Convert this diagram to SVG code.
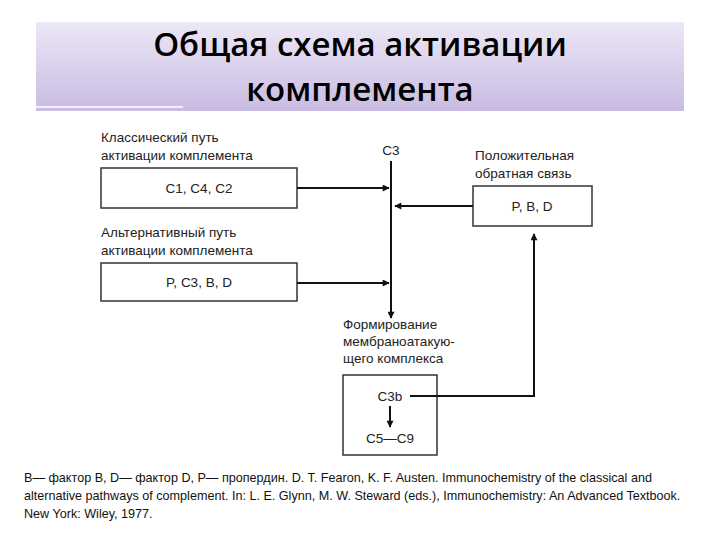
<svg xmlns="http://www.w3.org/2000/svg" width="720" height="540" viewBox="0 0 720 540">
<defs>
<linearGradient id="g" x1="0" y1="0" x2="0" y2="1"><stop offset="0" stop-color="#ece8f6"/><stop offset="1" stop-color="#c9bbe2"/></linearGradient>
<marker id="a" viewBox="0 0 10 10" refX="9" refY="5" markerWidth="9" markerHeight="7" orient="auto" markerUnits="userSpaceOnUse"><path d="M0,0L10,5L0,10z" fill="#111"/></marker>
<style>
.t{font-family:"Liberation Sans",Arial,sans-serif;font-size:13.5px;fill:#222}
.b{fill:#fff;stroke:#333;stroke-width:1.5}
.c{stroke:#111;stroke-width:2;fill:none}
.f{font-family:"Liberation Sans",Arial,sans-serif;font-size:12.6px;fill:#111}
</style>
</defs>
<rect width="720" height="540" fill="#fff"/>
<g id="title">
<rect x="36" y="22" width="648" height="89" fill="url(#g)"/>
<line x1="36" y1="107" x2="183" y2="107" stroke="#fff" stroke-width="1.5"/>
<text x="360" y="56" text-anchor="middle" font-family="'Open Sans','Noto Sans',sans-serif" font-size="33" font-weight="600">Общая схема активации</text>
<text x="360" y="101" text-anchor="middle" font-family="'Open Sans','Noto Sans',sans-serif" font-size="33" font-weight="600">комплемента</text>
</g>
<g id="classic">
<text class="t" x="101" y="142">Классический путь</text>
<text class="t" x="101" y="160">активации комплемента</text>
<rect class="b" x="101" y="168" width="196" height="40"/>
<text class="t" x="199" y="193" text-anchor="middle">C1, C4, C2</text>
</g>
<g id="alt">
<text class="t" x="101" y="237">Альтернативный путь</text>
<text class="t" x="101" y="255">активации комплемента</text>
<rect class="b" x="101" y="263" width="196" height="38"/>
<text class="t" x="199" y="287" text-anchor="middle">P, C3, B, D</text>
</g>
<g id="c3"><text class="t" x="391" y="155" text-anchor="middle">C3</text></g>
<g id="feedback">
<text class="t" x="475" y="160">Положительная</text>
<text class="t" x="475" y="178">обратная связь</text>
<rect class="b" x="473" y="186" width="119" height="40"/>
<text class="t" x="532" y="211" text-anchor="middle">P, B, D</text>
</g>
<g id="mac">
<text class="t" x="343" y="329">Формирование</text>
<text class="t" x="343" y="346">мембраноатакую-</text>
<text class="t" x="343" y="363">щего комплекса</text>
<rect class="b" x="343" y="375" width="94" height="80"/>
<text class="t" x="390" y="401" text-anchor="middle">C3b</text>
<text class="t" x="390" y="443" text-anchor="middle">C5—C9</text>
</g>
<g id="connectors">
<line class="c" x1="391" y1="161" x2="391" y2="318" marker-end="url(#a)"/>
<line class="c" x1="297" y1="188" x2="389" y2="188" marker-end="url(#a)"/>
<line class="c" x1="297" y1="283" x2="389" y2="283" marker-end="url(#a)"/>
<line class="c" x1="473" y1="206" x2="395" y2="206" marker-end="url(#a)"/>
<polyline class="c" points="410,396 534,396 534,234" marker-end="url(#a)"/>
<line class="c" x1="390" y1="406" x2="390" y2="427" marker-end="url(#a)"/>
</g>
<g id="note">
<text class="f" x="24" y="482">B— фактор B, D— фактор D, P— пропердин. D. T. Fearon, K. F. Austen. Immunochemistry of the classical and</text>
<text class="f" x="24" y="500">alternative pathways of complement. In: L. E. Glynn, M. W. Steward (eds.), Immunochemistry: An Advanced Textbook.</text>
<text class="f" x="24" y="518">New York: Wiley, 1977.</text>
</g>
</svg>
